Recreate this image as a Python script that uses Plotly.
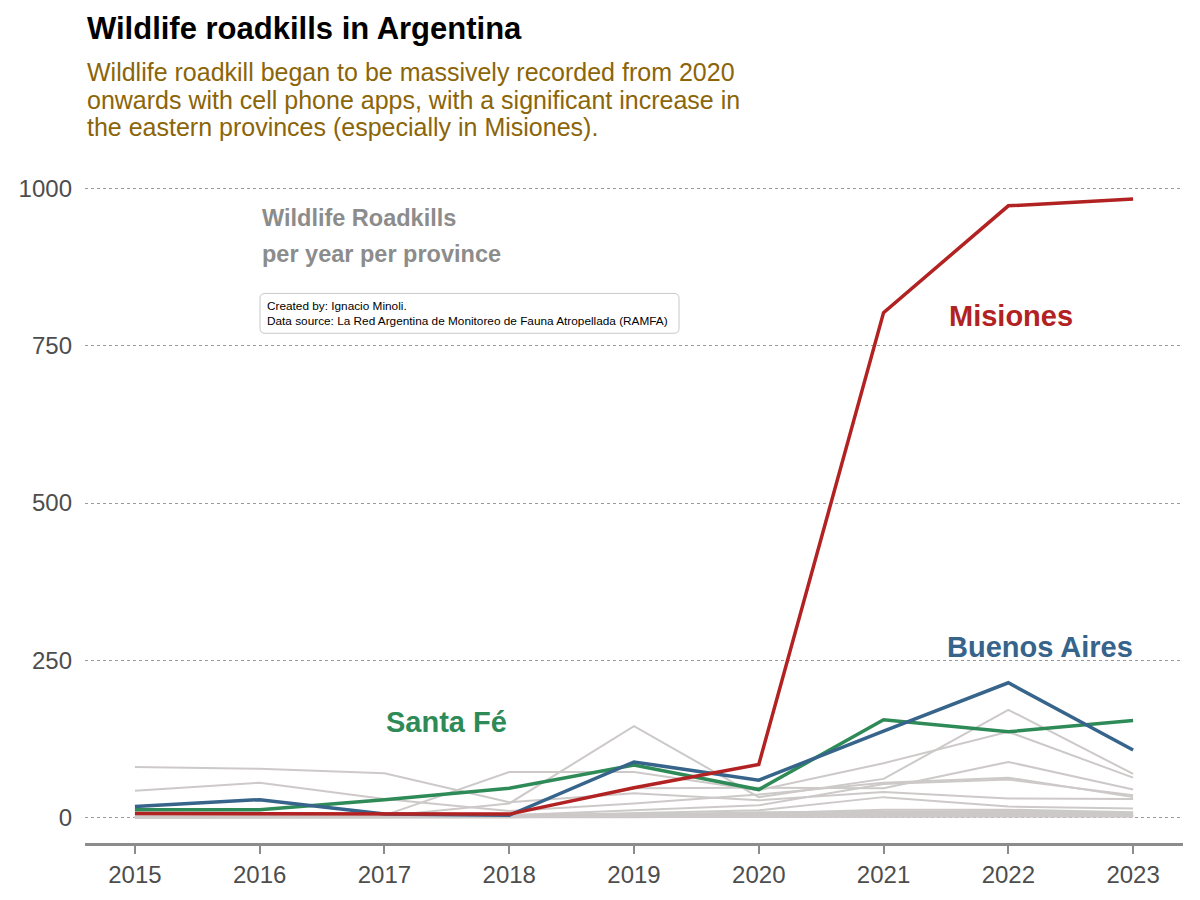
import plotly.graph_objects as go

years = [2015, 2016, 2017, 2018, 2019, 2020, 2021, 2022, 2023]

misiones = [6, 6, 5, 5, 47, 84, 803, 973, 984]
buenos_aires = [17, 28, 5, 3, 88, 59, 137, 214, 107]
santa_fe = [12, 12, 28, 46, 83, 44, 155, 136, 154]

# other provinces (grey background lines)
other_provinces = [
    [0, 0, 2, 22, 145, 32, 61, 171, 69],
    [0, 0, 3, 72, 72, 43, 86, 136, 63],
    [80, 77, 70, 24, 38, 27, 40, 30, 29],
    [42, 55, 29, 10, 22, 36, 55, 63, 32],
    [0, 1, 2, 5, 46, 47, 46, 88, 44],
    [0, 0, 1, 3, 11, 19, 53, 60, 35],
    [0, 0, 0, 2, 6, 11, 32, 17, 14],
    [0, 0, 0, 1, 4, 6, 12, 12, 8],
    [0, 0, 0, 0, 3, 8, 9, 10, 6],
    [0, 0, 0, 0, 2, 5, 7, 8, 5],
    [0, 0, 0, 0, 1, 4, 5, 6, 4],
    [0, 0, 0, 0, 1, 3, 4, 5, 3],
    [0, 0, 0, 0, 0, 2, 3, 4, 2],
    [0, 0, 0, 0, 0, 1, 2, 3, 2],
    [0, 0, 0, 0, 0, 1, 1, 2, 1],
    [0, 0, 0, 0, 0, 0, 1, 1, 1],
    [1, 1, 1, 1, 2, 2, 3, 3, 2],
    [2, 2, 3, 4, 5, 6, 8, 9, 7],
]

y_ticks = [0, 250, 500, 750, 1000]

FONT = "Liberation Sans, Arial, sans-serif"
RED = "#B22222"
BLUE = "#36648B"
GREEN = "#2E8B57"
GREY = "#cdc9c9"

fig = go.Figure()
for vals in other_provinces:
    fig.add_trace(go.Scatter(x=years, y=vals, mode="lines",
                             line=dict(color=GREY, width=2), hoverinfo="skip"))
fig.add_trace(go.Scatter(x=years, y=santa_fe, mode="lines", line=dict(color=GREEN, width=3.5)))
fig.add_trace(go.Scatter(x=years, y=buenos_aires, mode="lines", line=dict(color=BLUE, width=3.5)))
fig.add_trace(go.Scatter(x=years, y=misiones, mode="lines", line=dict(color=RED, width=3.5)))

ann = []
ann.append(dict(xref="paper", yref="paper", x=0, y=1.210, xanchor="left", yanchor="middle",
                text="<b>Wildlife roadkills in Argentina</b>", showarrow=False,
                font=dict(family=FONT, size=31, color="black")))
sub = ["Wildlife roadkill began to be massively recorded from 2020",
       "onwards with cell phone apps, with a significant increase in",
       "the eastern provinces (especially in Misiones)."]
for s, yy in zip(sub, [1.145, 1.1036, 1.0636]):
    ann.append(dict(xref="paper", yref="paper", x=0, y=yy, xanchor="left", yanchor="middle",
                    text=s, showarrow=False, font=dict(family=FONT, size=25, color="#8B6508")))
ann.append(dict(x=2016.0, y=954, xanchor="left", yanchor="middle", showarrow=False,
                text="<b>Wildlife Roadkills</b>", font=dict(family=FONT, size=23.5, color="#8c8c8c")))
ann.append(dict(x=2016.0, y=896, xanchor="left", yanchor="middle", showarrow=False,
                text="<b>per year per province</b>", font=dict(family=FONT, size=23.5, color="#8c8c8c")))
ann.append(dict(xref="paper", yref="paper", x=0.1594 + 0.0045, y=0.787, xanchor="left", yanchor="middle",
                showarrow=False, align="left",
                text="Created by: Ignacio Minoli.<br>Data source: La Red Argentina de Monitoreo de Fauna Atropellada (RAMFA)",
                font=dict(family=FONT, size=11.8, color="black")))
ann.append(dict(x=2022.02, y=798, showarrow=False, text="<b>Misiones</b>",
                font=dict(family=FONT, size=29, color=RED)))
ann.append(dict(x=2022.25, y=271, showarrow=False, text="<b>Buenos Aires</b>",
                font=dict(family=FONT, size=29, color=BLUE)))
ann.append(dict(x=2017.5, y=151, showarrow=False, text="<b>Santa Fé</b>",
                font=dict(family=FONT, size=29, color=GREEN)))

# rounded caption box (paper coordinates)
x0, x1, y0, y1 = 0.1594, 0.541, 0.7574, 0.8166
rx, ry = 0.0046, 0.0074
path = (f"M {x0+rx},{y0} L {x1-rx},{y0} Q {x1},{y0} {x1},{y0+ry} "
        f"L {x1},{y1-ry} Q {x1},{y1} {x1-rx},{y1} L {x0+rx},{y1} "
        f"Q {x0},{y1} {x0},{y1-ry} L {x0},{y0+ry} Q {x0},{y0} {x0+rx},{y0} Z")

fig.update_layout(
    width=1200, height=900,
    margin=dict(l=85, r=17, t=170, b=54),
    paper_bgcolor="white", plot_bgcolor="white",
    showlegend=False, hovermode=False,
    annotations=ann,
    shapes=[dict(type="path", xref="paper", yref="paper", path=path,
                 line=dict(color="#c8c8c8", width=1), fillcolor="white", layer="below")],
    font=dict(family=FONT),
)
fig.update_xaxes(range=[2014.6, 2023.4], tickvals=years, ticktext=[str(y) for y in years],
                 showgrid=False, zeroline=False, showline=True, linecolor="#8c8c8c", linewidth=2.5,
                 ticks="outside", ticklen=8, tickwidth=2, tickcolor="#8c8c8c",
                 tickfont=dict(family=FONT, size=24, color="#4d4d4d"))
fig.update_yaxes(range=[-41, 1030], tickvals=y_ticks, ticktext=[str(v) for v in y_ticks],
                 showgrid=True, gridcolor="#9a9a9a", gridwidth=1, griddash="dot",
                 zeroline=False, showline=False, ticks="", ticklabelstandoff=12,
                 tickfont=dict(family=FONT, size=24, color="#4d4d4d"))

fig.write_html("out.html")
